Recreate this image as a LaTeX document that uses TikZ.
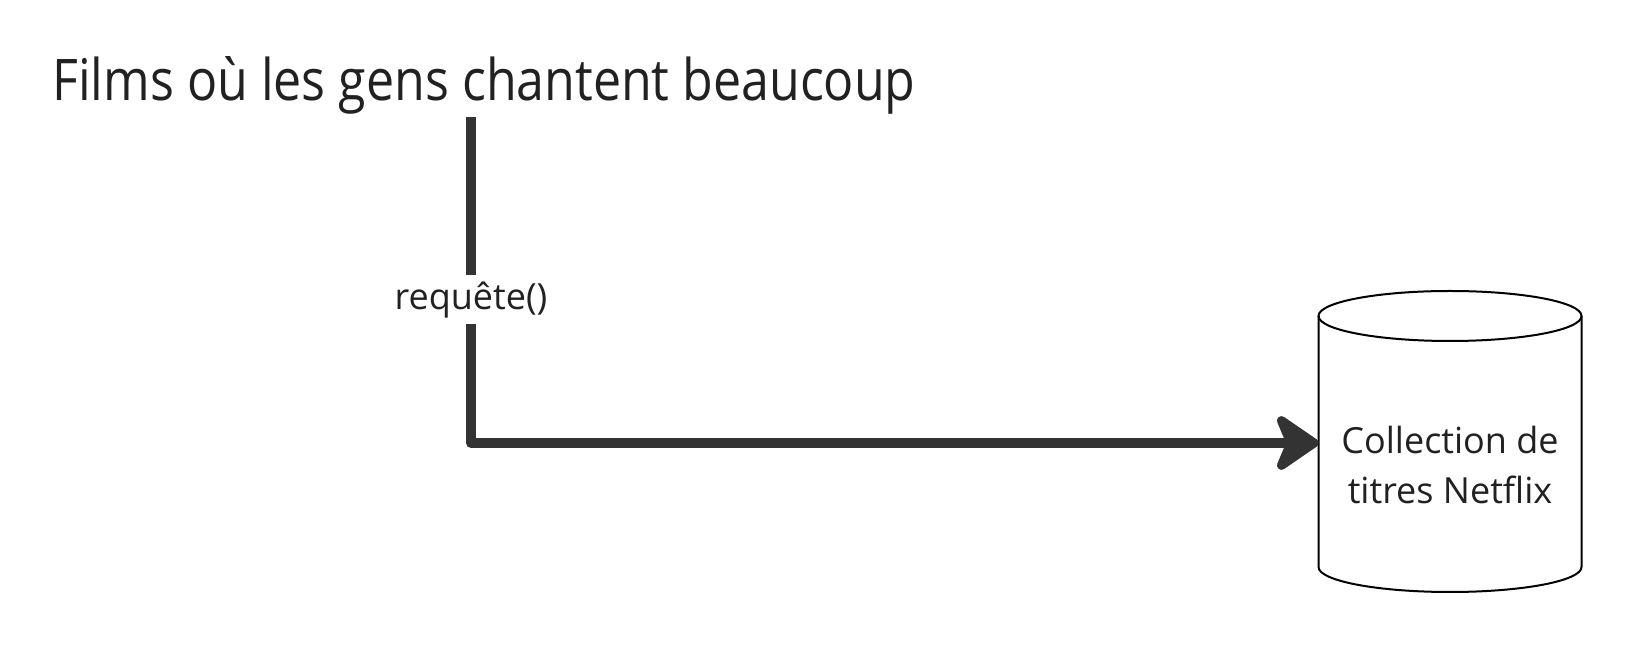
\documentclass[tikz,border=0pt]{standalone}
\usepackage{fontspec}
\setmainfont{Open Sans}
\usetikzlibrary{arrows.meta}
\definecolor{LineClr}{rgb}{0.2,0.2,0.2}
\definecolor{TextClr}{rgb}{0.13,0.13,0.13}

\begin{document}
\begin{tikzpicture}[x=0.5pt,y=-0.5pt,
  flow/.style={line width=5pt,color=LineClr,line join=round,
    -{Stealth[length=25pt,width=34pt,inset=7pt,round]}},
  lbl/.style={fill=white,text=TextClr,inner sep=3pt,font=\fontsize{18}{22}\selectfont},
  dbox/.style={minimum width=131.5pt,minimum height=150pt,inner sep=0pt,outer sep=0pt},
  dbline/.style={draw=black,line width=1pt},
  dbtext/.style={align=center,text=TextClr,font=\fontsize{18}{25}\selectfont}]
\useasboundingbox (0,0) rectangle (1632,656);

\node[anchor=base west,inner sep=0pt,text=TextClr,font=\fontsize{28.7}{34}\selectfont]
  (title) at (52,101) {\scalebox{0.873}[1]{Films où les gens chantent beaucoup}};
\coordinate (src) at (471,117);

% the cylinder
\node[dbox] (db) at (1450,443) {};
\draw[dbline] (1450,316) ellipse[x radius=131.5,y radius=25];
\draw[dbline] (1318.5,316) -- (1318.5,567)
  arc[start angle=180,end angle=0,x radius=131.5,y radius=25] -- (1581.5,316);
\node[dbtext] (dbtxt) at (1450,465) {Collection de\\titres Netflix};

\draw[flow] (src) |- node[lbl,pos=.28] (req) {requête()} (db.west);

\end{tikzpicture}
\end{document}
